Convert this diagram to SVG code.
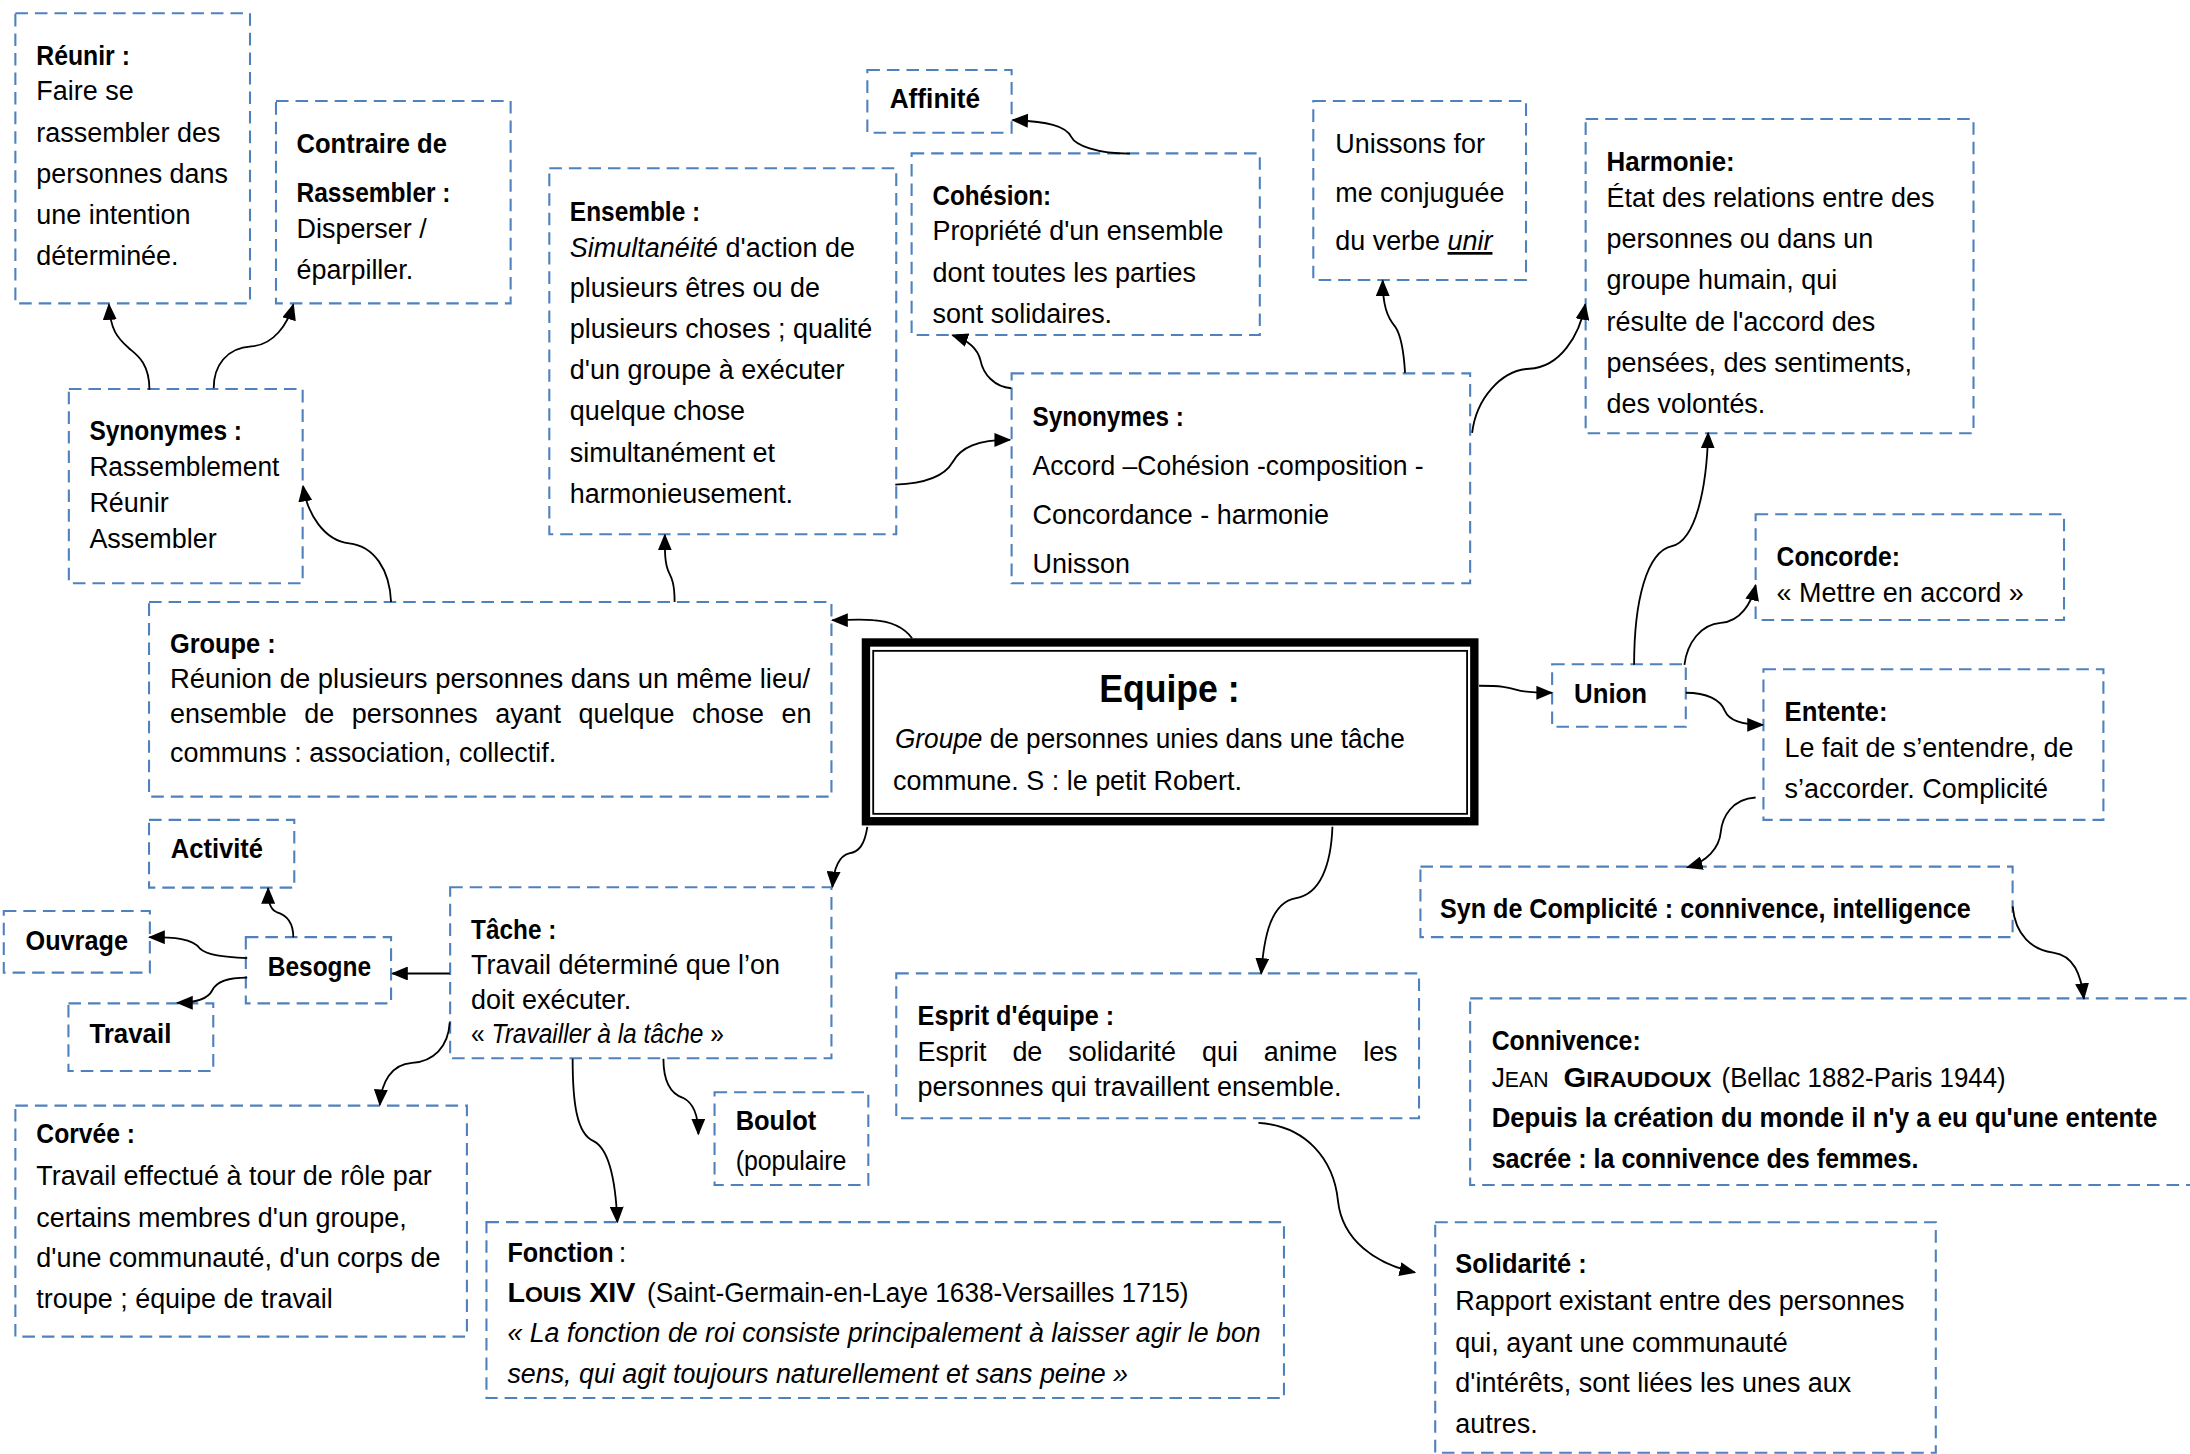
<svg xmlns="http://www.w3.org/2000/svg" width="2190" height="1454" viewBox="0 0 2190 1454">
<defs>
<style>
.box{fill:none;stroke:#4f81bd;stroke-width:1.5;stroke-dasharray:9 5}
text{font-family:"Liberation Sans",Arial,sans-serif;font-size:19.3px;fill:#000}
.b{font-weight:bold}
.i{font-style:italic}
.sc{font-size:15.5px}
.c{fill:none;stroke:#000;stroke-width:1.3;marker-end:url(#ah)}
</style>
<marker id="ah" markerUnits="userSpaceOnUse" markerWidth="12" markerHeight="10" refX="11" refY="5" orient="auto" viewBox="0 0 12 10"><path d="M0,0 L12,5 L0,10 z" fill="#000"/></marker>
</defs>
<rect width="2190" height="1454" fill="#fff"/>
<g transform="scale(1.39668)">

<g id="reunir">
<rect class="box" x="11" y="9.5" width="168" height="207.7"/>
<text class="b" x="26" y="46.5" textLength="67" lengthAdjust="spacingAndGlyphs">Réunir :</text>
<text x="26" y="71.6">Faire se</text>
<text x="26" y="101.4">rassembler des</text>
<text x="26" y="130.8">personnes dans</text>
<text x="26" y="160.5">une intention</text>
<text x="26" y="189.7">déterminée.</text>
</g>

<g id="contraire">
<rect class="box" x="197.6" y="72.3" width="168" height="144.9"/>
<text class="b" x="212.3" y="109.8" textLength="107.7" lengthAdjust="spacingAndGlyphs">Contraire de</text>
<text class="b" x="212.3" y="144.4" textLength="110.3" lengthAdjust="spacingAndGlyphs">Rassembler :</text>
<text x="212.3" y="170.6">Disperser /</text>
<text x="212.3" y="200">éparpiller.</text>
</g>

<g id="synonymes-gauche">
<rect class="box" x="49.3" y="278.5" width="167.4" height="139.1"/>
<text class="b" x="64" y="315" textLength="109.3" lengthAdjust="spacingAndGlyphs">Synonymes :</text>
<text x="64" y="340.8" textLength="136" lengthAdjust="spacingAndGlyphs">Rassemblement</text>
<text x="64" y="366.8">Réunir</text>
<text x="64" y="392.6">Assembler</text>
</g>

<g id="ensemble">
<rect class="box" x="393.3" y="120.5" width="248.4" height="262"/>
<text class="b" x="408" y="158" textLength="93.3" lengthAdjust="spacingAndGlyphs">Ensemble :</text>
<text x="408" y="184"><tspan class="i">Simultanéité</tspan> d'action de</text>
<text x="408" y="213">plusieurs êtres ou de</text>
<text x="408" y="242">plusieurs choses ; qualité</text>
<text x="408" y="271.5">d'un groupe à exécuter</text>
<text x="408" y="301">quelque chose</text>
<text x="408" y="330.5">simultanément et</text>
<text x="408" y="360">harmonieusement.</text>
</g>

<g id="affinite">
<rect class="box" x="621" y="50.1" width="103.3" height="44.9"/>
<text class="b" x="637" y="77.5" textLength="64.7" lengthAdjust="spacingAndGlyphs">Affinité</text>
</g>

<g id="cohesion">
<rect class="box" x="652.7" y="109.8" width="249.3" height="130"/>
<text class="b" x="667.6" y="146.8" textLength="85" lengthAdjust="spacingAndGlyphs">Cohésion:</text>
<text x="667.6" y="171.8">Propriété d'un ensemble</text>
<text x="667.6" y="201.7">dont toutes les parties</text>
<text x="667.6" y="231">sont solidaires.</text>
</g>

<g id="unissons">
<rect class="box" x="940.3" y="72.3" width="152.3" height="128.2"/>
<text x="956" y="109.8">Unissons for</text>
<text x="956" y="144.4">me conjuguée</text>
<text x="956" y="179">du verbe <tspan class="i" text-decoration="underline">unir</tspan></text>
</g>

<g id="harmonie">
<rect class="box" x="1135.3" y="85.2" width="277.7" height="225"/>
<text class="b" x="1150.3" y="122.4" textLength="91.7" lengthAdjust="spacingAndGlyphs">Harmonie:</text>
<text x="1150.3" y="148">État des relations entre des</text>
<text x="1150.3" y="177.8">personnes ou dans un</text>
<text x="1150.3" y="207">groupe humain, qui</text>
<text x="1150.3" y="237">résulte de l'accord des</text>
<text x="1150.3" y="266">pensées, des sentiments,</text>
<text x="1150.3" y="295.5">des volontés.</text>
</g>

<g id="synonymes-milieu">
<rect class="box" x="724.3" y="267.3" width="328.3" height="150.3"/>
<text class="b" x="739.3" y="305" textLength="108.3" lengthAdjust="spacingAndGlyphs">Synonymes :</text>
<text x="739.3" y="340" textLength="280" lengthAdjust="spacingAndGlyphs">Accord –Cohésion -composition -</text>
<text x="739.3" y="375.4">Concordance - harmonie</text>
<text x="739.3" y="410.5">Unisson</text>
</g>

<g id="groupe">
<rect class="box" x="106.7" y="431" width="488.6" height="139.4"/>
<text class="b" x="121.7" y="467.8" textLength="75.7" lengthAdjust="spacingAndGlyphs">Groupe :</text>
<text x="121.7" y="492.5" textLength="458.3" lengthAdjust="spacingAndGlyphs">Réunion de plusieurs personnes dans un même lieu/</text>
<text x="121.7" y="518" word-spacing="7.2">ensemble de personnes ayant quelque chose en</text>
<text x="121.7" y="545.5">communs : association, collectif.</text>
</g>

<g id="equipe">
<rect x="620" y="460" width="435.6" height="128" fill="#fff" stroke="#000" stroke-width="6"/>
<rect x="625.2" y="466" width="425.2" height="116.7" fill="none" stroke="#000" stroke-width="1.3"/>
<text class="b" x="787" y="502.4" style="font-size:28px" textLength="100.6" lengthAdjust="spacingAndGlyphs">Equipe :</text>
<text x="640.8" y="535.8" textLength="365" lengthAdjust="spacingAndGlyphs"><tspan class="i">Groupe</tspan> de personnes unies dans une tâche</text>
<text x="639.4" y="565.6">commune. S : le petit Robert.</text>
</g>

<g id="union">
<rect class="box" x="1111.3" y="475.6" width="95.7" height="44.7"/>
<text class="b" x="1127" y="503.6" textLength="52.3" lengthAdjust="spacingAndGlyphs">Union</text>
</g>

<g id="concorde">
<rect class="box" x="1257" y="368.2" width="220.8" height="75.7"/>
<text class="b" x="1272" y="405.2" textLength="88.3" lengthAdjust="spacingAndGlyphs">Concorde:</text>
<text x="1272" y="431.2">« Mettre en accord »</text>
</g>

<g id="entente">
<rect class="box" x="1262.6" y="479.2" width="243.4" height="107.8"/>
<text class="b" x="1277.7" y="516.2" textLength="73.7" lengthAdjust="spacingAndGlyphs">Entente:</text>
<text x="1277.7" y="541.7">Le fait de s’entendre, de</text>
<text x="1277.7" y="571.6">s’accorder. Complicité</text>
</g>

<g id="syn-complicite">
<rect class="box" x="1017" y="620.5" width="424" height="50.5"/>
<text class="b" x="1031" y="657.5" textLength="380" lengthAdjust="spacingAndGlyphs">Syn de Complicité : connivence, intelligence</text>
</g>

<g id="connivence">
<rect class="box" x="1052.6" y="714.8" width="530" height="133.6"/>
<text class="b" x="1068" y="751.8" textLength="106.7" lengthAdjust="spacingAndGlyphs">Connivence:</text>
<text x="1068" y="778.5" textLength="40.7" lengthAdjust="spacingAndGlyphs">J<tspan class="sc">EAN</tspan></text>
<text class="b" x="1119.4" y="778.5" textLength="105.9" lengthAdjust="spacingAndGlyphs">G<tspan class="sc">IRAUDOUX</tspan></text>
<text x="1232.6" y="778.5" textLength="203.4" lengthAdjust="spacingAndGlyphs">(Bellac 1882-Paris 1944)</text>
<text class="b" x="1068" y="806.7" textLength="476.6" lengthAdjust="spacingAndGlyphs">Depuis la création du monde il n'y a eu qu'une entente</text>
<text class="b" x="1068" y="836.5" textLength="305.6" lengthAdjust="spacingAndGlyphs">sacrée : la connivence des femmes.</text>
</g>

<g id="solidarite">
<rect class="box" x="1027.6" y="875.1" width="358.4" height="165"/>
<text class="b" x="1042" y="911.7" textLength="94" lengthAdjust="spacingAndGlyphs">Solidarité :</text>
<text x="1042" y="938">Rapport existant entre des personnes</text>
<text x="1042" y="967.8">qui, ayant une communauté</text>
<text x="1042" y="996.4">d'intérêts, sont liées les unes aux</text>
<text x="1042" y="1026.2">autres.</text>
</g>

<g id="esprit">
<rect class="box" x="641.7" y="696.9" width="374.3" height="103.8"/>
<text class="b" x="657" y="733.9" textLength="140.7" lengthAdjust="spacingAndGlyphs">Esprit d'équipe :</text>
<text x="657" y="759.4" word-spacing="13.2">Esprit de solidarité qui anime les</text>
<text x="657" y="784.7">personnes qui travaillent ensemble.</text>
</g>

<g id="boulot">
<rect class="box" x="511.6" y="782" width="110.1" height="66.4"/>
<text class="b" x="526.7" y="809" textLength="57.7" lengthAdjust="spacingAndGlyphs">Boulot</text>
<text x="526.7" y="837.7" textLength="79.3" lengthAdjust="spacingAndGlyphs">(populaire</text>
</g>

<g id="fonction">
<rect class="box" x="348.3" y="875" width="571" height="126"/>
<text class="b" x="363.3" y="903.3" textLength="76" lengthAdjust="spacingAndGlyphs">Fonction</text>
<text x="443" y="903.3">:</text>
<text class="b" x="363.3" y="932" textLength="91.7" lengthAdjust="spacingAndGlyphs">L<tspan class="sc">OUIS</tspan> XIV</text>
<text x="463.3" y="932" textLength="387.7" lengthAdjust="spacingAndGlyphs">(Saint-Germain-en-Laye 1638-Versailles 1715)</text>
<text class="i" x="363.3" y="960.6" textLength="539.3" lengthAdjust="spacingAndGlyphs">« La fonction de roi consiste principalement à laisser agir le bon</text>
<text class="i" x="363.3" y="990.4" textLength="444.3" lengthAdjust="spacingAndGlyphs">sens, qui agit toujours naturellement et sans peine »</text>
</g>

<g id="corvee">
<rect class="box" x="11" y="791.6" width="323.3" height="165.4"/>
<text class="b" x="26" y="818.6" textLength="70.7" lengthAdjust="spacingAndGlyphs">Corvée :</text>
<text x="26" y="848.4">Travail effectué à tour de rôle par</text>
<text x="26" y="878.3">certains membres d'un groupe,</text>
<text x="26" y="906.9">d'une communauté, d'un corps de</text>
<text x="26" y="936.7">troupe ; équipe de travail</text>
</g>

<g id="travail">
<rect class="box" x="49" y="718.4" width="103.7" height="48.4"/>
<text class="b" x="64" y="747" textLength="58.7" lengthAdjust="spacingAndGlyphs">Travail</text>
</g>

<g id="tache">
<rect class="box" x="322.3" y="635.3" width="273" height="122.4"/>
<text class="b" x="337.3" y="672.3" textLength="61" lengthAdjust="spacingAndGlyphs">Tâche :</text>
<text x="337.3" y="697.5">Travail déterminé que l’on</text>
<text x="337.3" y="722.7">doit exécuter.</text>
<text x="337.3" y="746.5" textLength="181" lengthAdjust="spacingAndGlyphs">« <tspan class="i">Travailler à la tâche</tspan> »</text>
</g>

<g id="activite">
<rect class="box" x="106.7" y="587" width="104" height="48.5"/>
<text class="b" x="122.3" y="614.5" textLength="66" lengthAdjust="spacingAndGlyphs">Activité</text>
</g>

<g id="ouvrage">
<rect class="box" x="2.7" y="652.3" width="104.6" height="44.1"/>
<text class="b" x="18.3" y="680.2" textLength="73.3" lengthAdjust="spacingAndGlyphs">Ouvrage</text>
</g>

<g id="besogne">
<rect class="box" x="176" y="671" width="104" height="47.4"/>
<text class="b" x="191.7" y="698.5" textLength="74" lengthAdjust="spacingAndGlyphs">Besogne</text>
</g>

<g id="connectors">
<path class="c" d="M107,279 C107,258 96,253 92,249 C84,242 79,236 78,218"/>
<path class="c" d="M153,278 C153,262 162,249 180,248 C196,247 206,232 210,218"/>
<path class="c" d="M280,431 C279,408 268,391 250,389 C232,387 220,368 217,348"/>
<path class="c" d="M483,431 C483,418 481,414 479,410 C476,404 476,396 476,383"/>
<path class="c" d="M641,347 C668,346 678,338 682,331 C688,320 700,315 723,315"/>
<path class="c" d="M724,278 C712,277 704,268 702,258 C700,250 694,244 682,240"/>
<path class="c" d="M809,110 C785,110 770,104 767,98 C763,90 750,87 725,86"/>
<path class="c" d="M1006,267 C1005,250 1003,240 999,234 C993,227 990,218 990,201"/>
<path class="c" d="M1054,310 C1057,285 1075,265 1095,264 C1117,263 1131,240 1135,218"/>
<path class="c" d="M1170,476 C1170,430 1179,395 1197,391 C1214,387 1222,350 1223,310"/>
<path class="c" d="M1206,476 C1208,460 1218,447 1232,446 C1246,445 1254,432 1257,419"/>
<path class="c" d="M1207,496 C1222,496 1232,501 1235,509 C1238,516 1248,519 1262,519"/>
<path class="c" d="M1059,491 C1075,491 1080,492 1086,494 C1092,496 1100,496 1111,496"/>
<path class="c" d="M1257,571 C1240,572 1233,585 1232,596 C1231,607 1222,617 1208,621"/>
<path class="c" d="M1441,649 C1443,670 1455,680 1470,682 C1485,684 1490,698 1492,715"/>
<path class="c" d="M653,457 C648,450 640,445 625,444 C615,443 607,444 596,444"/>
<path class="c" d="M621,592 C619,605 615,610 608,611 C600,613 597,622 596,635"/>
<path class="c" d="M954,592 C953,620 945,640 928,643 C910,646 905,670 903,697"/>
<path class="c" d="M901,804 C935,806 955,830 958,860 C961,888 985,905 1013,911"/>
<path class="c" d="M322,697 L281,697"/>
<path class="c" d="M210,671 C210,660 205,655 198,653 C193,651 192,645 192,636"/>
<path class="c" d="M177,686 C160,685 148,684 143,679 C138,672 125,671 107,671"/>
<path class="c" d="M177,700 C162,700 155,703 152,709 C149,715 140,718 127,718"/>
<path class="c" d="M322,732 C321,750 310,760 295,761 C280,762 273,775 272,791"/>
<path class="c" d="M410,758 C410,790 413,812 425,817 C437,823 441,850 442,875"/>
<path class="c" d="M475,758 C475,775 480,783 489,786 C497,790 500,800 500,812"/>
</g>
</g>
</svg>
